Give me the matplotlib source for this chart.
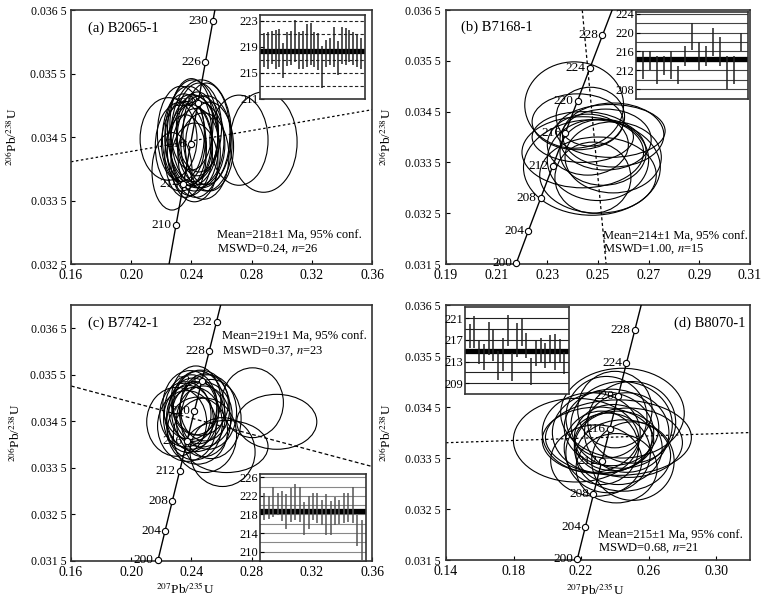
import numpy as np
import matplotlib
matplotlib.use("Agg")
import matplotlib.pyplot as plt
from matplotlib.patches import Ellipse

plt.rcParams["font.family"] = ["Liberation Serif", "DejaVu Serif"]
plt.rcParams["mathtext.fontset"] = "stix"

# decay constants (per Ma) for the concordia curve
L238 = 1.55125e-4
L235 = 9.8485e-4

# ---------------- (a) B2065-1 ----------------
a_ex = [0.2879, 0.2716, 0.2248, 0.2271, 0.2465, 0.2380, 0.2400, 0.2420, 0.2350, 0.2440,
        0.2390, 0.2410, 0.2460, 0.2370, 0.2430, 0.2500, 0.2330, 0.2450, 0.2360, 0.2520,
        0.2400, 0.2480, 0.2330, 0.2440, 0.2500, 0.2420]
a_ey = [0.03442, 0.03445, 0.03447, 0.03396, 0.03455, 0.03452, 0.03445, 0.03440, 0.03448, 0.03438,
        0.03430, 0.03460, 0.03445, 0.03440, 0.03425, 0.03440, 0.03455, 0.03465, 0.03420, 0.03435,
        0.03470, 0.03420, 0.03435, 0.03455, 0.03455, 0.03410]
a_sx = [0.0223, 0.0193, 0.0189, 0.0133, 0.0200, 0.0156, 0.0175, 0.0162, 0.0143, 0.0182,
        0.0150, 0.0169, 0.0156, 0.0169, 0.0162, 0.0170, 0.0156, 0.0150, 0.0137, 0.0160,
        0.0143, 0.0169, 0.0170, 0.0137, 0.0156, 0.0156]
a_sy = [0.00079, 0.00071, 0.00065, 0.00061, 0.00085, 0.00078, 0.00072, 0.00075, 0.00070, 0.00068,
        0.00072, 0.00080, 0.00070, 0.00066, 0.00070, 0.00075, 0.00075, 0.00070, 0.00065, 0.00070,
        0.00072, 0.00068, 0.00070, 0.00066, 0.00080, 0.00062]
a_ages = [210, 214, 218, 222, 226, 230]
a_line_x = [0.16, 0.36]
a_line_y = [0.03411, 0.03493]
a_mean = 218.4
a_bar = [218.5, 218.45, 218.87, 218.6, 218.8, 216.9, 218.7, 218.8, 219.9, 218.45,
         218.5, 219.2, 219.4, 218.6, 218.25, 215.9, 218.0, 218.25, 219.0, 217.25,
         219.25, 219.0, 219.1, 218.75, 218.4, 218.0]
a_err = [2.6, 2.8, 2.5, 3.0, 2.9, 2.75, 2.6, 2.65, 3.2, 2.8,
         2.86, 3.3, 3.2, 2.7, 2.85, 3.2, 2.1, 2.1, 3.1, 2.6,
         2.85, 2.85, 2.5, 2.6, 2.5, 2.35]

# ---------------- (b) B7168-1 ----------------
b_ex = [0.2406, 0.2420, 0.2470, 0.2550, 0.2560, 0.2476, 0.2440, 0.2500, 0.2520, 0.2480,
        0.2460, 0.2530, 0.2500, 0.2440, 0.2560]
b_ey = [0.03463, 0.03430, 0.03440, 0.03412, 0.03404, 0.03340, 0.03370, 0.03355, 0.03370, 0.03320,
        0.03385, 0.03395, 0.03325, 0.03400, 0.03360]
b_sx = [0.0195, 0.0180, 0.0135, 0.0215, 0.0200, 0.0270, 0.0240, 0.0200, 0.0170, 0.0150,
        0.0160, 0.0180, 0.0230, 0.0200, 0.0190]
b_sy = [0.00085, 0.00055, 0.00058, 0.00052, 0.00063, 0.00094, 0.00070, 0.00080, 0.00065, 0.00070,
        0.00060, 0.00060, 0.00075, 0.00050, 0.00070]
b_ages = [200, 204, 208, 212, 216, 220, 224, 228]
b_line_x = [0.2438, 0.2532]
b_line_y = [0.0365, 0.0315]
b_mean = 214.4
b_bar = [213.05, 214.0, 212.05, 213.0, 213.05, 211.05, 215.0, 219.15, 215.05, 215.0,
         218.0, 215.95, 211.5, 212.05, 218.0]
b_err = [2.95, 2.0, 2.95, 2.0, 2.95, 1.95, 2.1, 2.95, 2.95, 2.1,
         3.0, 3.05, 3.5, 2.95, 2.0]

# ---------------- (c) B7742-1 ----------------
c_ex = [0.2967, 0.2806, 0.2607, 0.2633, 0.2302, 0.2400, 0.2430, 0.2450, 0.2380, 0.2470,
        0.2420, 0.2390, 0.2480, 0.2360, 0.2510, 0.2440, 0.2410, 0.2530, 0.2460, 0.2370,
        0.2490, 0.2430, 0.2490]
c_ey = [0.03449, 0.03490, 0.03384, 0.03396, 0.03449, 0.03470, 0.03460, 0.03480, 0.03455, 0.03465,
        0.03445, 0.03485, 0.03450, 0.03465, 0.03470, 0.03430, 0.03475, 0.03455, 0.03490, 0.03440,
        0.03420, 0.03495, 0.03480]
c_sx = [0.0266, 0.0205, 0.0216, 0.0276, 0.0199, 0.0180, 0.0195, 0.0170, 0.0165, 0.0200,
        0.0185, 0.0180, 0.0180, 0.0170, 0.0190, 0.0200, 0.0160, 0.0200, 0.0185, 0.0195,
        0.0210, 0.0165, 0.0165]
c_sy = [0.00059, 0.00075, 0.00074, 0.00056, 0.00074, 0.00080, 0.00075, 0.00078, 0.00072, 0.00070,
        0.00078, 0.00074, 0.00076, 0.00070, 0.00080, 0.00072, 0.00068, 0.00085, 0.00070, 0.00076,
        0.00080, 0.00074, 0.00072]
c_ages = [200, 204, 208, 212, 216, 220, 224, 228, 232]
c_line_x = [0.16, 0.36]
c_line_y = [0.03526, 0.03353]
c_mean = 218.8
c_bar = [219.8, 219.55, 220.75, 220.3, 219.85, 218.65, 220.0, 220.7, 220.2, 217.1,
         218.4, 219.75, 219.4, 218.4, 218.0, 217.2, 218.75, 218.55, 219.4, 219.55,
         219.95, 214.55, 212.4]
c_err = [2.9, 2.45, 3.25, 2.4, 3.25, 3.85, 3.6, 3.8, 3.8, 3.6,
         3.6, 2.95, 3.3, 2.7, 4.5, 3.7, 3.05, 2.65, 3.3, 3.15,
         3.85, 3.35, 4.4]

# ---------------- (d) B8070-1 ----------------
d_ex = [0.2171, 0.2421, 0.2445, 0.2507, 0.2290, 0.2380, 0.2330, 0.2420, 0.2350, 0.2470,
        0.2300, 0.2400, 0.2450, 0.2360, 0.2260, 0.2500, 0.2390, 0.2440, 0.2320, 0.2480,
        0.2410]
d_ey = [0.03385, 0.03390, 0.03438, 0.03344, 0.03345, 0.03410, 0.03400, 0.03370, 0.03430, 0.03400,
        0.03385, 0.03445, 0.03355, 0.03360, 0.03400, 0.03420, 0.03390, 0.03415, 0.03370, 0.03380,
        0.03330]
d_sx = [0.0372, 0.0432, 0.0366, 0.0244, 0.0270, 0.0280, 0.0300, 0.0260, 0.0240, 0.0250,
        0.0330, 0.0220, 0.0280, 0.0250, 0.0290, 0.0260, 0.0230, 0.0300, 0.0220, 0.0320,
        0.0240]
d_sy = [0.00082, 0.00074, 0.00088, 0.00077, 0.00070, 0.00075, 0.00080, 0.00072, 0.00080, 0.00078,
        0.00065, 0.00075, 0.00070, 0.00078, 0.00078, 0.00080, 0.00065, 0.00085, 0.00072, 0.00068,
        0.00068]
d_ages = [200, 204, 208, 212, 216, 220, 224, 228]
d_line_x = [0.14, 0.32]
d_line_y = [0.03380, 0.03400]
d_mean = 215.0
d_bar = [217.7, 218.45, 214.75, 213.9, 217.3, 216.1, 212.3, 214.3, 218.7, 212.0,
         217.0, 218.4, 215.9, 211.15, 214.5, 215.05, 214.1, 215.3, 214.8, 215.05,
         212.7]
d_err = [2.2, 2.95, 2.15, 2.4, 3.1, 2.9, 2.7, 3.0, 2.9, 2.5,
         3.1, 2.6, 2.3, 2.45, 2.4, 2.25, 2.3, 2.6, 3.3, 2.05,
         2.0]


def fmt_y(v):
    s = "%.4f" % v
    return s[:-1] + " " + s[-1]


def panel(rect, xlim, xticks, ylim, yticks, ex, ey, sx, sy, ages, lx, ly, dash):
    ax = fig.add_axes(rect)
    for x, y, w, h in zip(ex, ey, sx, sy):
        ax.add_patch(Ellipse((x, y), 2 * w, 2 * h, fill=False, ec="black", lw=0.8, zorder=2))
    t = np.linspace(185, 245, 200)
    ax.plot(np.exp(L235 * t) - 1, np.exp(L238 * t) - 1, color="black", lw=1.0, zorder=3)
    ta = np.array(ages, dtype=float)
    cx = np.exp(L235 * ta) - 1
    cy = np.exp(L238 * ta) - 1
    ax.plot(cx, cy, "o", ms=4.5, mfc="white", mec="black", mew=0.8, zorder=4, clip_on=False)
    for age, x, y in zip(ages, cx, cy):
        ax.annotate(str(age), (x, y), xytext=(-3, 0), textcoords="offset points",
                    ha="right", va="center", fontsize=9.5, zorder=5)
    ax.plot(lx, ly, color="black", lw=0.9, ls=dash, zorder=1)
    ax.set_xlim(xlim)
    ax.set_ylim(ylim)
    ax.set_xticks(xticks)
    ax.set_xticklabels(["%.2f" % v for v in xticks], fontsize=10)
    ax.set_yticks(yticks)
    ax.set_yticklabels([fmt_y(v) for v in yticks], fontsize=8.5)
    ax.tick_params(direction="in", length=3, width=0.8)
    for sp in ax.spines.values():
        sp.set_linewidth(1.2)
        sp.set_color("#333333")
    ax.set_ylabel(r"$^{206}$Pb/$^{238}$U", fontsize=9.5)
    return ax


def inset(rect, ylim, yticks, bar, err, mean, grid, gstyle, gcolor, bcolor):
    ins = fig.add_axes(rect)
    ins.set_facecolor("white")
    n = len(bar)
    pos = np.arange(1, n + 1)
    for g in grid:
        ins.axhline(g, color=gcolor, lw=0.8, ls=gstyle, zorder=1)
    ins.axhline(mean, color="black", lw=3.8, zorder=2)
    lo = np.array(bar) - np.array(err)
    hi = np.array(bar) + np.array(err)
    ins.vlines(pos, lo, hi, color=bcolor, lw=1.1, zorder=3)
    ins.set_xlim(0, n + 1)
    ins.set_ylim(ylim)
    ins.set_xticks([])
    ins.set_yticks(yticks)
    ins.set_yticklabels([str(v) for v in yticks], fontsize=9)
    ins.tick_params(direction="in", length=3, width=0.8, pad=1)
    for sp in ins.spines.values():
        sp.set_linewidth(1.2)
        sp.set_color("#333333")
    return ins


fig = plt.figure(figsize=(7.66, 5.98), dpi=100)

# (a)
ax = panel([0.0927, 0.5585, 0.393, 0.4247], (0.16, 0.36), [0.16, 0.20, 0.24, 0.28, 0.32, 0.36],
           (0.0325, 0.0365), [0.0325, 0.0335, 0.0345, 0.0355, 0.0365],
           a_ex, a_ey, a_sx, a_sy, a_ages, a_line_x, a_line_y, (0, (2, 2)))
ax.yaxis.set_label_coords(-0.168, 0.5)
ax.text(0.056, 0.929, "(a) B2065-1", transform=ax.transAxes, fontsize=10.5, va="center")
ax.text(0.485, 0.110, "Mean=218±1 Ma, 95% conf.", transform=ax.transAxes, fontsize=9, va="center")
ax.text(0.485, 0.059, "MSWD=0.24, $n$=26", transform=ax.transAxes, fontsize=9, va="center")
inset([0.3394, 0.8344, 0.1371, 0.1405], (210.95, 223.9), [211, 215, 219, 223],
      a_bar, a_err, a_mean, [213, 215, 217, 221, 223], (0, (3, 2)), "#222222", "#222222")

# (b)
ax = panel([0.5822, 0.5585, 0.3969, 0.4247], (0.19, 0.31), [0.19, 0.21, 0.23, 0.25, 0.27, 0.29, 0.31],
           (0.0315, 0.0365), [0.0315, 0.0325, 0.0335, 0.0345, 0.0355, 0.0365],
           b_ex, b_ey, b_sx, b_sy, b_ages, b_line_x, b_line_y, (0, (2.5, 2)))
ax.yaxis.set_label_coords(-0.172, 0.5)
ax.text(0.049, 0.933, "(b) B7168-1", transform=ax.transAxes, fontsize=10.5, va="center")
ax.text(0.516, 0.108, "Mean=214±1 Ma, 95% conf.", transform=ax.transAxes, fontsize=9, va="center")
ax.text(0.516, 0.058, "MSWD=1.00, $n$=15", transform=ax.transAxes, fontsize=9, va="center")
inset([0.8303, 0.8344, 0.1462, 0.1455], (205.9, 224.35), [208, 212, 216, 220, 224],
      b_bar, b_err, b_mean, list(range(206, 225, 2)), "-", "#444444", "#222222")

# (c)
ax = panel([0.0927, 0.0619, 0.393, 0.4281], (0.16, 0.36), [0.16, 0.20, 0.24, 0.28, 0.32, 0.36],
           (0.0315, 0.0370), [0.0315, 0.0325, 0.0335, 0.0345, 0.0355, 0.0365],
           c_ex, c_ey, c_sx, c_sy, c_ages, c_line_x, c_line_y, (0, (3, 2)))
ax.yaxis.set_label_coords(-0.16, 0.5)
ax.set_xlabel(r"$^{207}$Pb/$^{235}$U", fontsize=9.5)
ax.xaxis.set_label_coords(0.38, -0.078)
ax.text(0.056, 0.930, "(c) B7742-1", transform=ax.transAxes, fontsize=10.5, va="center")
ax.text(0.502, 0.875, "Mean=219±1 Ma, 95% conf.", transform=ax.transAxes, fontsize=9, va="center")
ax.text(0.502, 0.818, "MSWD=0.37, $n$=23", transform=ax.transAxes, fontsize=9, va="center")
inset([0.3394, 0.0619, 0.1384, 0.1455], (208.0, 226.7), [210, 214, 218, 222, 226],
      c_bar, c_err, c_mean, list(range(208, 227, 2)), "-", "#888888", "#555555")

# (d)
ax = panel([0.5822, 0.0635, 0.3969, 0.4264], (0.14, 0.32), [0.14, 0.18, 0.22, 0.26, 0.30],
           (0.0315, 0.0365), [0.0315, 0.0325, 0.0335, 0.0345, 0.0355, 0.0365],
           d_ex, d_ey, d_sx, d_sy, d_ages, d_line_x, d_line_y, (0, (2, 2)))
ax.yaxis.set_label_coords(-0.172, 0.5)
ax.set_xlabel(r"$^{207}$Pb/$^{235}$U", fontsize=9.5)
ax.xaxis.set_label_coords(0.49, -0.085)
ax.text(0.984, 0.929, "(d) B8070-1", transform=ax.transAxes, fontsize=10.5, va="center", ha="right")
ax.text(0.5, 0.094, "Mean=215±1 Ma, 95% conf.", transform=ax.transAxes, fontsize=9, va="center")
ax.text(0.5, 0.046, "MSWD=0.68, $n$=21", transform=ax.transAxes, fontsize=9, va="center")
inset([0.6070, 0.3411, 0.1358, 0.1455], (207.0, 223.1), [209, 213, 217, 221],
      d_bar, d_err, d_mean, [209, 211, 213, 217, 219, 221], "-", "#222222", "#222222")

fig.savefig("out.png", dpi=100)
